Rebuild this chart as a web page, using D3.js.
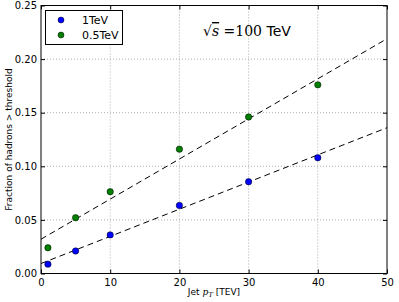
<!DOCTYPE html>
<meta charset="utf-8">
<style>
    body { margin: 0; background: #fff; }
    svg { display: block; }
    text { font-family: "DejaVu Sans", sans-serif; }
</style>
<script src="https://d3js.org/d3.v7.min.js"></script>
<svg id="chart" width="399" height="302"></svg>
<script>

// Data
var ptValues   = [1, 5, 10, 20, 30, 40];
var frac1TeV   = [0.0087, 0.021, 0.036, 0.0635, 0.0856, 0.108];
var frac05TeV  = [0.024, 0.052, 0.0763, 0.116, 0.146, 0.176];
var fitX       = [0, 50];
var fit1TeV    = [0.0093, 0.136];
var fit05TeV   = [0.032, 0.219];
var xTicks     = [0, 10, 20, 30, 40, 50];
var yTicks     = [0, 0.05, 0.10, 0.15, 0.20, 0.25];
var seriesNames  = ['1TeV', '0.5TeV'];
var seriesColors = ['#0000ff', '#007f00'];

// Setup
var svg = d3.select('svg#chart');
var plotL = 41, plotR = 387, plotT = 5.5, plotB = 273.5;

var x = d3.scaleLinear().domain([0, 50]).range([plotL, plotR]);
var y = d3.scaleLinear().domain([0, 0.25]).range([plotB, plotT]);

// Grid
svg.append('g').selectAll('line')
    .data(xTicks.slice(1, -1))
    .enter().append('line')
    .attr('x1', d => x(d)).attr('x2', d => x(d))
    .attr('y1', plotT).attr('y2', plotB)
    .attr('stroke', '#999').attr('stroke-width', 0.8)
    .attr('stroke-dasharray', '1,2');

svg.append('g').selectAll('line')
    .data(yTicks.slice(1, -1))
    .enter().append('line')
    .attr('x1', plotL).attr('x2', plotR)
    .attr('y1', d => y(d)).attr('y2', d => y(d))
    .attr('stroke', '#999').attr('stroke-width', 0.8)
    .attr('stroke-dasharray', '1,2');

// Fit lines
var fits = [fit1TeV, fit05TeV];
var lineFn = d3.line().x(d => x(d[0])).y(d => y(d[1]));
fits.forEach(function (f) {
    svg.append('path')
        .attr('d', lineFn(fitX.map((v, i) => [v, f[i]])))
        .attr('fill', 'none')
        .attr('stroke', '#000')
        .attr('stroke-width', 1)
        .attr('stroke-dasharray', '6,4');
});

// Points
var series = [frac1TeV, frac05TeV];
series.forEach(function (vals, si) {
    svg.append('g').selectAll('circle')
        .data(vals)
        .enter().append('circle')
        .attr('cx', (d, i) => x(ptValues[i]))
        .attr('cy', d => y(d))
        .attr('r', 3.2)
        .attr('fill', seriesColors[si])
        .attr('stroke', '#000')
        .attr('stroke-width', 0.5);
});

// Frame
svg.append('rect')
    .attr('x', plotL).attr('y', plotT)
    .attr('width', plotR - plotL).attr('height', plotB - plotT)
    .attr('fill', 'none').attr('stroke', '#000').attr('stroke-width', 1);

// Axes with inward ticks
var xAxis = svg.append('g')
    .attr('transform', 'translate(0,' + plotB + ')')
    .call(d3.axisBottom(x).tickValues(xTicks).tickSizeInner(-4).tickSizeOuter(0).tickPadding(5));
var xAxisTop = svg.append('g')
    .attr('transform', 'translate(0,' + plotT + ')')
    .call(d3.axisTop(x).tickValues(xTicks).tickSizeInner(-4).tickSizeOuter(0).tickFormat(''));
var yAxis = svg.append('g')
    .attr('transform', 'translate(' + plotL + ',0)')
    .call(d3.axisLeft(y).tickValues(yTicks).tickSizeInner(-4).tickSizeOuter(0).tickPadding(4)
        .tickFormat(d3.format('.2f')));
var yAxisRight = svg.append('g')
    .attr('transform', 'translate(' + plotR + ',0)')
    .call(d3.axisRight(y).tickValues(yTicks).tickSizeInner(-4).tickSizeOuter(0).tickFormat(''));

[xAxis, xAxisTop, yAxis, yAxisRight].forEach(function (a) {
    a.select('.domain').remove();
    a.selectAll('text').attr('font-family', '"DejaVu Sans", sans-serif')
        .attr('font-size', 10).attr('fill', '#000');
    a.selectAll('line').attr('stroke', '#000');
});

// Axis labels
svg.append('text')
    .attr('transform', 'translate(12,' + ((plotT + plotB) / 2) + ') rotate(-90)')
    .attr('text-anchor', 'middle')
    .attr('font-size', 9)
    .text('Fraction of hadrons > threshold');

var xl = svg.append('text')
    .attr('x', 214).attr('y', 295)
    .attr('text-anchor', 'middle')
    .attr('font-size', 9);
xl.append('tspan').text('Jet ');
xl.append('tspan').attr('font-family', '"DejaVu Serif", serif').attr('font-style', 'italic').text('p');
xl.append('tspan').attr('font-family', '"DejaVu Serif", serif').attr('font-style', 'italic')
    .attr('font-size', 7).attr('dy', 2).text('T');
xl.append('tspan').attr('dy', -2).text(' [TEV]');

// Legend
var legend = svg.append('g');
legend.append('rect')
    .attr('x', 45.5).attr('y', 10.5).attr('width', 77).attr('height', 34)
    .attr('fill', '#fff').attr('stroke', '#000').attr('stroke-width', 1);
seriesNames.forEach(function (name, i) {
    legend.append('circle')
        .attr('cx', 61).attr('cy', 20 + i * 15).attr('r', 3)
        .attr('fill', seriesColors[i]).attr('stroke', '#000').attr('stroke-width', 0.5);
    legend.append('text')
        .attr('x', 82).attr('y', 24 + i * 15)
        .attr('font-size', 11)
        .text(name);
});

// Annotation
var ann = svg.append('text').attr('x', 203).attr('y', 36).attr('font-size', 14);
ann.append('tspan').attr('font-family', '"DejaVu Serif", serif').text('\u221A');
ann.append('tspan').attr('font-family', '"DejaVu Serif", serif').attr('font-style', 'italic')
    .attr('text-decoration', 'overline').text('s');
ann.append('tspan').attr('font-family', '"DejaVu Serif", serif').text(' =100 ');
ann.append('tspan').text('TeV');

</script>
